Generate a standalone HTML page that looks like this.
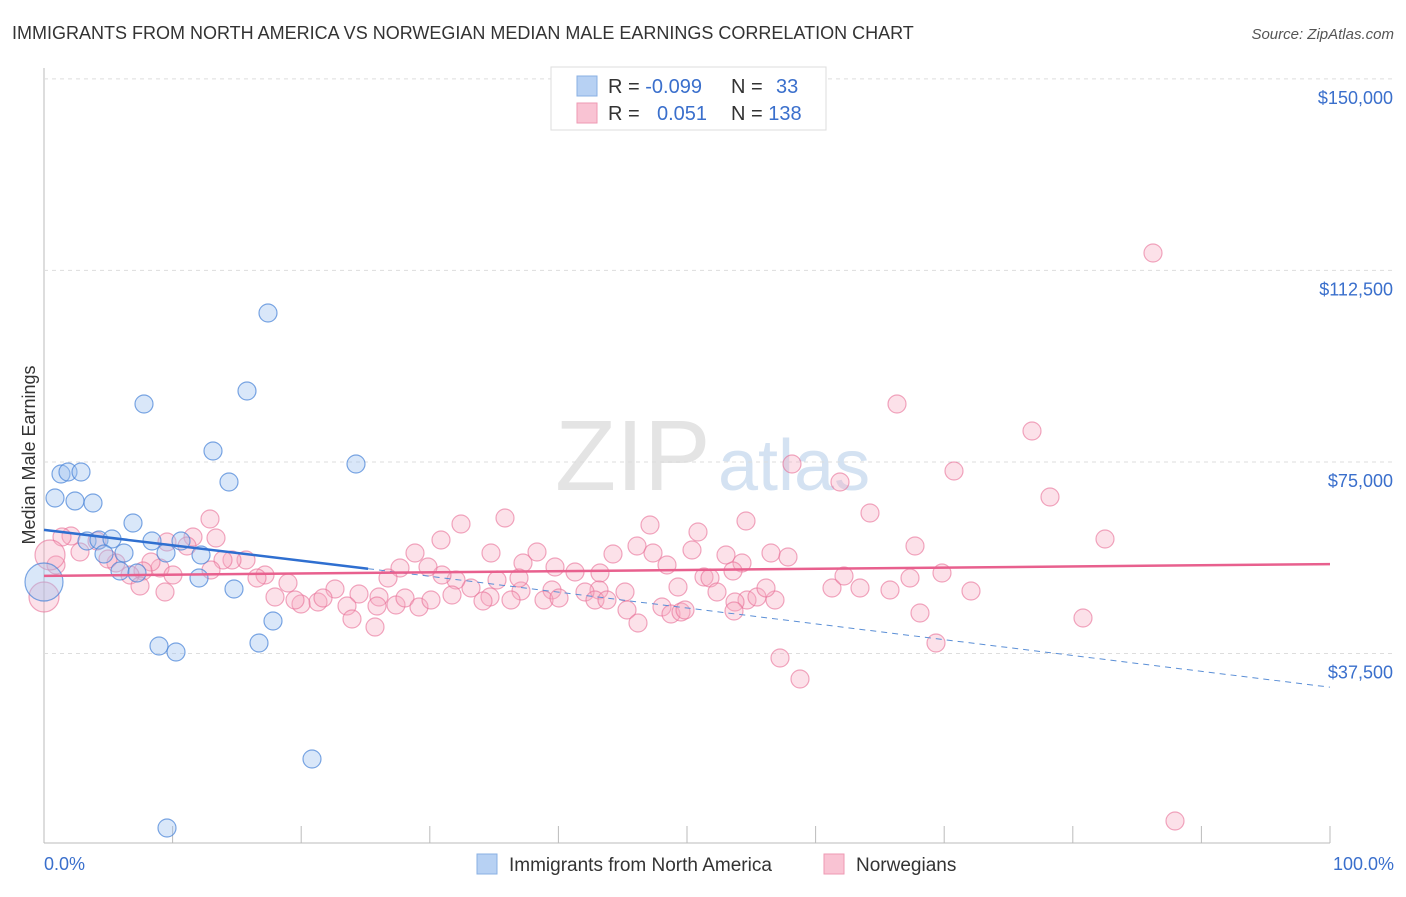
<!DOCTYPE html>
<html><head><meta charset="utf-8"><style>
body{margin:0;background:#fff;font-family:"Liberation Sans",sans-serif;}
svg text{font-family:"Liberation Sans",sans-serif;}
</style></head><body>
<svg id="c" width="1406" height="892" xmlns="http://www.w3.org/2000/svg">
<text x="12" y="39" font-size="18" fill="#333">IMMIGRANTS FROM NORTH AMERICA VS NORWEGIAN MEDIAN MALE EARNINGS CORRELATION CHART</text>
<text x="1394" y="39" font-size="15" fill="#555" font-style="italic" text-anchor="end">Source: ZipAtlas.com</text>
<text x="555" y="490" font-size="100" fill="#e4e4e4" font-family="Liberation Serif">ZIP</text>
<text x="718" y="490" font-size="72" fill="#d4e2f2">atlas</text>
<text transform="translate(35,455) rotate(-90)" font-size="18" fill="#333" text-anchor="middle">Median Male Earnings</text>
<g id="grid"></g><g id="pts"></g><g id="trend"></g>
<g>
<rect x="551" y="67" width="275" height="63" fill="#fff" stroke="#ddd"/>
<rect x="577" y="76" width="20" height="20" fill="#b7d1f3" stroke="#8ab0e3"/>
<rect x="577" y="103" width="20" height="20" fill="#f9c3d3" stroke="#ee9ab3"/>
<text x="608" y="93" font-size="20" fill="#333">R = <tspan fill="#3a6fcc">-0.099</tspan></text>
<text x="731" y="93" font-size="20" fill="#333">N = <tspan x="776" fill="#3a6fcc">33</tspan></text>
<text x="608" y="120" font-size="20" fill="#333">R = <tspan x="657" fill="#3a6fcc">0.051</tspan></text>
<text x="731" y="120" font-size="20" fill="#333">N = <tspan fill="#3a6fcc">138</tspan></text>
</g>
<g>
<rect x="477" y="854" width="20" height="20" fill="#b7d1f3" stroke="#8ab0e3"/>
<text x="509" y="871" font-size="19" fill="#333">Immigrants from North America</text>
<rect x="824" y="854" width="20" height="20" fill="#f9c3d3" stroke="#ee9ab3"/>
<text x="856" y="871" font-size="19" fill="#333">Norwegians</text>
</g>
<text x="44" y="870" font-size="18" fill="#3a6fcc">0.0%</text>
<text x="1394" y="870" font-size="18" fill="#3a6fcc" text-anchor="end">100.0%</text>
</svg>
<script>
const yTicks=[150000,112500,75000,37500];
const yTickLabels=["$150,000","$112,500","$75,000","$37,500"];
const xTicks=[0,10,20,30,40,50,60,70,80,90,100];
const bluePx=[[268,313],[144,404],[247,391],[213,451],[229,482],[356,464],[61,474],[68,472],[81,472],[55,498],[75,501],[93,503],[133,523],[87,541],[99,540],[112,539],[152,541],[104,554],[124,553],[166,553],[181,541],[201,555],[120,571],[137,573],[199,578],[234,589],[273,621],[159,646],[176,652],[259,643],[312,759],[167,828],[44,582]];
const pinkPx=[[1153,253],[897,404],[1032,431],[792,464],[954,471],[840,482],[1050,497],[870,513],[1105,539],[915,546],[746,521],[698,532],[650,525],[505,518],[461,524],[441,540],[415,553],[491,553],[523,563],[537,552],[555,567],[575,572],[600,573],[613,554],[637,546],[653,553],[667,565],[692,550],[726,555],[742,563],[771,553],[788,557],[704,577],[710,578],[733,571],[717,592],[678,587],[625,592],[599,590],[585,592],[552,590],[521,591],[511,600],[490,597],[471,588],[456,580],[442,575],[428,567],[400,568],[388,578],[379,597],[359,594],[335,589],[318,602],[301,604],[288,583],[265,575],[246,560],[232,560],[223,560],[211,570],[193,537],[216,538],[210,519],[187,546],[167,542],[160,568],[173,575],[151,562],[143,571],[130,575],[116,563],[108,559],[97,541],[80,552],[71,536],[62,537],[56,565],[44,597],[50,555],[165,592],[140,586],[257,578],[275,597],[295,600],[323,598],[347,606],[352,619],[375,627],[377,606],[396,605],[405,598],[419,607],[431,600],[452,595],[483,601],[497,580],[519,578],[544,600],[559,598],[595,600],[607,600],[627,610],[662,607],[671,614],[681,612],[685,610],[638,623],[747,600],[757,597],[735,602],[775,600],[766,588],[734,611],[780,658],[800,679],[832,588],[844,576],[860,588],[890,590],[910,578],[920,613],[936,643],[942,573],[971,591],[1083,618],[1175,821]];
const blueX=bluePx.map(p=>(p[0]-44)/12.86), blueY=bluePx.map(p=>(845-p[1])*195.8);
const pinkX=pinkPx.map(p=>(p[0]-44)/12.86), pinkY=pinkPx.map(p=>(845-p[1])*195.8);
const blueTrend=[[0,61700],[25.2,54100],[100,30900]];
const pinkTrend=[[0,52700],[100,55000]];
const X=v=>44+v*12.86, Y=v=>845-v/195.8;
const NS="http://www.w3.org/2000/svg";
function mk(t,a,p){const e=document.createElementNS(NS,t);for(const k in a)e.setAttribute(k,a[k]);p.appendChild(e);return e;}
const g=document.getElementById('grid');
let l=mk('line',{x1:44,y1:68,x2:44,y2:843,stroke:'#bbb'},g);


l=mk('line',{x1:44,y1:843,x2:1330,y2:843,stroke:'#bbb'},g);


yTicks.forEach((v,i)=>{
 const gl=mk('line',{x1:44,y1:Y(v),x2:1394,y2:Y(v),stroke:'#ddd','stroke-dasharray':'4,4'},g);
 
 
 const t=mk('text',{x:1393,y:Y(v)+25,'font-size':18,fill:'#3a6fcc','text-anchor':'end'},g);
 t.textContent=yTickLabels[i];
 
 
});
xTicks.forEach(v=>{
 const tk=mk('line',{x1:X(v),y1:826,x2:X(v),y2:843,stroke:'#bbb'},g);
 
 
});
const P=document.getElementById('pts');
pinkX.forEach((x,i)=>{
 const r=(i==78||i==79)?15:9;
 const c=mk('circle',{cx:X(x),cy:Y(pinkY[i]),r:r,fill:'rgba(246,168,192,0.35)',stroke:'rgba(232,110,150,0.6)','stroke-width':1.2},P);
 
 
});
blueX.forEach((x,i)=>{
 const r=(i==32)?19:9;
 const c=mk('circle',{cx:X(x),cy:Y(blueY[i]),r:r,fill:'rgba(160,196,240,0.4)',stroke:'rgba(70,130,215,0.7)','stroke-width':1.2},P);
 
 
});
const T=document.getElementById('trend');
let tl=mk('line',{x1:X(blueTrend[1][0]),y1:Y(blueTrend[1][1]),x2:X(blueTrend[2][0]),y2:Y(blueTrend[2][1]),stroke:'#5b8fd6','stroke-width':1,'stroke-dasharray':'6,5'},T);


tl=mk('line',{x1:X(blueTrend[0][0]),y1:Y(blueTrend[0][1]),x2:X(blueTrend[1][0]),y2:Y(blueTrend[1][1]),stroke:'#2f6fd0','stroke-width':2.5},T);


tl=mk('line',{x1:X(pinkTrend[0][0]),y1:Y(pinkTrend[0][1]),x2:X(pinkTrend[1][0]),y2:Y(pinkTrend[1][1]),stroke:'#e8608e','stroke-width':2.5},T);


</script>
</body></html>
